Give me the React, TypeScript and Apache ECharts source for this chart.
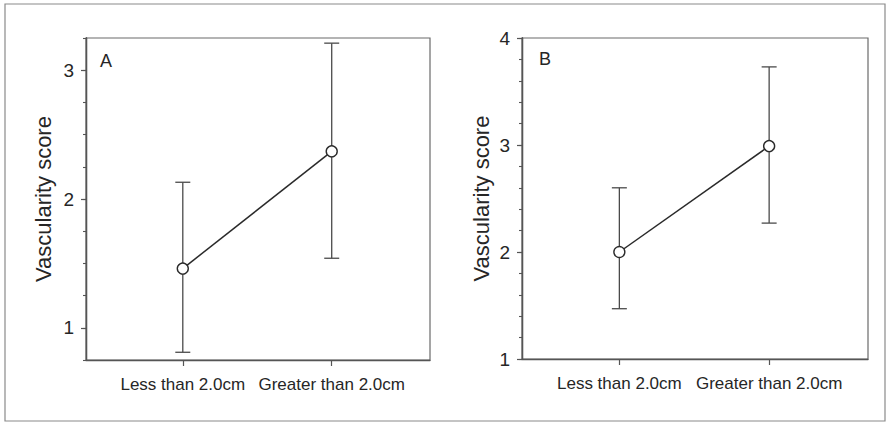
import React, { useEffect, useRef } from "react";
import * as echarts from "echarts";

const categories = ["Less than 2.0cm", "Greater than 2.0cm"];
const meanA = [1.46, 2.37];
const lowA = [0.81, 1.54];
const highA = [2.13, 3.21];
const meanB = [2.0, 2.99];
const lowB = [1.47, 2.27];
const highB = [2.6, 3.73];
const yTicksA = [1, 2, 3];
const yTicksB = [1, 2, 3, 4];
const panelLabels = ["A", "B"];
const yName = "Vascularity score";

const FONT = "'Liberation Sans', Arial, sans-serif";
const TEXT = "#262626";
const AXIS = "#555";

const gridA = { left: 86, right: 458, top: 38, bottom: 63 };
const gridB = { left: 522, right: 20, top: 38, bottom: 64 };

function errorSeries(gridIdx: number, low: number[], high: number[]) {
  return {
    type: "custom",
    xAxisIndex: gridIdx,
    yAxisIndex: gridIdx,
    z: 2,
    data: low.map((l, i) => [i, l, high[i]]),
    renderItem: (_params: any, api: any) => {
      const x = api.value(0);
      const lo = api.coord([x, api.value(1)]);
      const hi = api.coord([x, api.value(2)]);
      const half = 7.5;
      const style = { stroke: "#4a4a4a", lineWidth: 1.3 };
      return {
        type: "group",
        children: [
          { type: "line", shape: { x1: lo[0], y1: lo[1], x2: hi[0], y2: hi[1] }, style },
          { type: "line", shape: { x1: hi[0] - half, y1: hi[1], x2: hi[0] + half, y2: hi[1] }, style },
          { type: "line", shape: { x1: lo[0] - half, y1: lo[1], x2: lo[0] + half, y2: lo[1] }, style },
        ],
      };
    },
  };
}

function meanSeries(gridIdx: number, mean: number[]) {
  return {
    type: "line",
    xAxisIndex: gridIdx,
    yAxisIndex: gridIdx,
    z: 5,
    data: mean.map((m, i) => [i, m]),
    symbol: "circle",
    symbolSize: 11,
    showSymbol: true,
    lineStyle: { color: "#2a2a2a", width: 1.5 },
    itemStyle: { color: "#ffffff", borderColor: "#2a2a2a", borderWidth: 1.4 },
  };
}

function xAxis(gridIdx: number, visible: boolean) {
  return {
    type: "value",
    gridIndex: gridIdx,
    show: visible,
    min: -0.65,
    max: 1.66,
    splitLine: { show: false },
    axisLine: { show: true, onZero: false, lineStyle: { color: AXIS, width: 1.3 } },
    axisTick: { show: true, customValues: [0, 1], length: 6, lineStyle: { color: AXIS, width: 1.2 } },
    axisLabel: {
      customValues: [0, 1],
      hideOverlap: false,
      formatter: (v: number) => categories[Math.round(v)] ?? "",
      fontFamily: FONT,
      fontSize: 17,
      color: TEXT,
      margin: 16,
    },
  };
}

// main y axis: minor ticks at every interval step, labels only at the major values
function yAxisMain(gridIdx: number, min: number, max: number, ticks: number[], minor: number, nameGap: number) {
  return {
    type: "value",
    gridIndex: gridIdx,
    position: "left",
    min,
    max,
    interval: minor,
    name: yName,
    nameLocation: "middle",
    nameGap,
    nameTextStyle: { fontFamily: FONT, fontSize: 22, color: TEXT },
    splitLine: { show: false },
    axisLine: { show: true, onZero: false, lineStyle: { color: AXIS, width: 1.3 } },
    axisTick: { show: true, length: 3, lineStyle: { color: AXIS, width: 1.1 } },
    axisLabel: {
      customValues: ticks,
      fontFamily: FONT,
      fontSize: 19,
      color: TEXT,
      margin: 12,
    },
  };
}

// overlay y axis: longer ticks at the major values
function yAxisMajor(gridIdx: number, min: number, max: number, ticks: number[]) {
  return {
    type: "value",
    gridIndex: gridIdx,
    position: "left",
    show: true,
    min,
    max,
    splitLine: { show: false },
    axisLine: { show: true, onZero: false, lineStyle: { color: AXIS, width: 1.3 } },
    axisTick: { show: true, customValues: ticks, length: 5, lineStyle: { color: AXIS, width: 1.2 } },
    axisLabel: { show: false },
  };
}

export default function App() {
  const ref = useRef<HTMLDivElement>(null);
  useEffect(() => {
    if (!ref.current) return;
    const chart = echarts.init(ref.current, undefined, { renderer: "svg" });
    chart.setOption({
      animation: false,
      backgroundColor: "#ffffff",
      grid: [
        { ...gridA, show: true, borderColor: "#6a6a6a", borderWidth: 1.2 },
        { ...gridB, show: true, borderColor: "#6a6a6a", borderWidth: 1.2 },
        { ...gridA, show: false },
        { ...gridB, show: false },
      ],
      xAxis: [xAxis(0, true), xAxis(1, true), xAxis(2, false), xAxis(3, false)],
      yAxis: [
        yAxisMain(0, 0.75, 3.25, yTicksA, 0.25, 32),
        yAxisMain(1, 1, 4, yTicksB, 0.2, 30),
        yAxisMajor(2, 0.75, 3.25, yTicksA),
        yAxisMajor(3, 1, 4, yTicksB),
      ],
      series: [
        errorSeries(0, lowA, highA),
        meanSeries(0, meanA),
        errorSeries(1, lowB, highB),
        meanSeries(1, meanB),
      ],
      graphic: [
        {
          type: "rect",
          shape: { x: 5, y: 4, width: 880, height: 417 },
          style: { fill: "none", stroke: "#8a8a8a", lineWidth: 1.2 },
          silent: true,
        },
        {
          type: "text",
          x: 100,
          y: 52,
          style: { text: panelLabels[0], fontFamily: FONT, fontSize: 18, fill: TEXT },
        },
        {
          type: "text",
          x: 539,
          y: 50,
          style: { text: panelLabels[1], fontFamily: FONT, fontSize: 18, fill: TEXT },
        },
      ],
    });
    return () => chart.dispose();
  }, []);
  return (
    <div
      ref={ref}
      style={{ position: "fixed", left: 0, top: 0, width: 888, height: 423, background: "#fff" }}
    />
  );
}
